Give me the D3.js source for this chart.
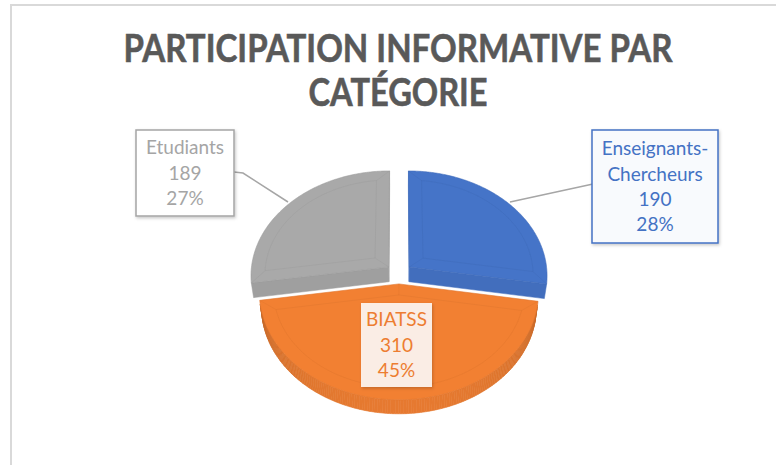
<!DOCTYPE html>
<html><head><meta charset="utf-8">
<script src="https://cdn.jsdelivr.net/npm/d3@7"></script>
<style>html,body{margin:0;padding:0;background:#fff;overflow:hidden}</style>
</head><body>
<svg id="c" width="776" height="465"></svg>
<script>
// ---- data ----
const titleLines = ["PARTICIPATION INFORMATIVE PAR", "CATÉGORIE"];
const categories = ["Enseignants-Chercheurs", "BIATSS", "Etudiants"];
const labelLines = [["Enseignants-", "Chercheurs"], ["BIATSS"], ["Etudiants"]];
const values = [190, 310, 189];
const colors = ["#4472c4", "#ed7d31", "#a5a5a5"];

// ---- layout ----
const W = 776, H = 465;
const geo = {cx: 399, cy: 273.6, R: 138, depth: 23, tilt: 49.4 * Math.PI / 180, D: 1116, explode: 13.5, bevel: 14};
const labelBoxes = [
  {x: 592, y: 130, w: 126, h: 113, fill: "#f8fafd", stroke: "#4472c4", leader: [[593, 184], [510, 202]]},
  {x: 361, y: 303, w: 71, h: 84, fill: "rgba(255,255,255,0.86)", stroke: "none", leader: null},
  {x: 136, y: 130, w: 98, h: 86, fill: "#ffffff", stroke: "#a5a5a5", leader: [[234, 172], [243, 173], [288, 202]]}
];

const svg = d3.select("#c");
const defs = svg.append("defs");
const sh = defs.append("filter").attr("id", "sh").attr("x", "-20%").attr("y", "-20%").attr("width", "140%").attr("height", "140%");
sh.append("feDropShadow").attr("dx", 1).attr("dy", 1.5).attr("stdDeviation", 1.6).attr("flood-color", "#000").attr("flood-opacity", 0.22);

// chart frame
svg.append("rect").attr("x", 11).attr("y", 5).attr("width", 900).attr("height", 600)
  .attr("fill", "#fff").attr("stroke", "#d9d9d9").attr("stroke-width", 2);

// title
const titleFont = "Lato, 'Open Sans', sans-serif";
const titleSpec = [{y: 62, len: 549}, {y: 106, len: 179}];
svg.append("g").selectAll("text").data(titleLines).join("text")
  .attr("x", 398).attr("y", (d, i) => titleSpec[i].y)
  .attr("text-anchor", "middle")
  .attr("font-family", titleFont).attr("font-weight", 700).attr("font-size", 39)
  .attr("fill", "#595959").attr("stroke", "#595959").attr("stroke-width", 0.6)
  .attr("textLength", (d, i) => titleSpec[i].len).attr("lengthAdjust", "spacingAndGlyphs")
  .text(d => d);

// ---- 3D projection ----
const cosA = Math.cos(geo.tilt), sinA = Math.sin(geo.tilt);
function proj(x, y, z) {
  const yu = y * cosA - z * sinA;
  const zv = y * sinA + z * cosA;
  const s = geo.D / (geo.D - zv);
  return [geo.cx + x * s, geo.cy - yu * s];
}
const camW = [0, geo.D * sinA, geo.D * cosA];
function visible(n, p) {
  return n[0] * (camW[0] - p[0]) + n[1] * (camW[1] - p[1]) + n[2] * (camW[2] - p[2]) > 0;
}

const total = d3.sum(values);
const pie = d3.pie().sort(null).startAngle(0).endAngle(2 * Math.PI)(values);
const slices = pie.map((p, i) => {
  const mid = (p.startAngle + p.endAngle) / 2;
  return {i, a0: p.startAngle, a1: p.endAngle, mid,
    ox: geo.explode * Math.sin(mid), oz: -geo.explode * Math.cos(mid),
    color: colors[i], value: values[i]};
});
const order = slices.slice().sort((a, b) => (-Math.cos(a.mid)) - (-Math.cos(b.mid)));
const line = d3.line().curve(d3.curveLinearClosed);
const lineOpen = d3.line();

const gPie = svg.append("g");
function rim(s, th, y, r) {
  r = r === undefined ? geo.R : r;
  return [s.ox + r * Math.sin(th), y, s.oz - r * Math.cos(th)];
}
order.forEach(s => {
  const g = gPie.append("g");
  const base = d3.color(s.color);
  const hgt = -geo.depth;
  // radial faces
  [[s.a0, -1], [s.a1, 1]].forEach(([th, sg]) => {
    const n = [sg * Math.cos(th), 0, sg * Math.sin(th)];
    const apexT = [s.ox, 0, s.oz];
    if (!visible(n, apexT)) return;
    const pts = [apexT, rim(s, th, 0), rim(s, th, hgt), [s.ox, hgt, s.oz]].map(p => proj(...p));
    g.append("path").attr("d", line(pts)).attr("fill", base.darker(0.1)).attr("stroke", base.darker(0.1)).attr("stroke-width", 0.5);
  });
  // outer wall
  const steps = Math.ceil((s.a1 - s.a0) / (Math.PI / 180));
  for (let k = 0; k < steps; k++) {
    const t0 = s.a0 + (s.a1 - s.a0) * k / steps;
    const t1 = s.a0 + (s.a1 - s.a0) * (k + 1) / steps;
    const tm = (t0 + t1) / 2;
    const n = [Math.sin(tm), 0, -Math.cos(tm)];
    if (!visible(n, rim(s, tm, 0))) continue;
    const f = Math.max(0, Math.min(1, -Math.cos(tm)));
    const c = d3.interpolateRgb(base.darker(1.0), base.darker(0.08))(Math.pow(f, 0.45));
    const pts = [rim(s, t0, 0), rim(s, t1, 0), rim(s, t1, hgt), rim(s, t0, hgt)].map(p => proj(...p));
    g.append("path").attr("d", line(pts)).attr("fill", c).attr("stroke", c).attr("stroke-width", 0.6);
  }
  // top face
  const topPts = [[s.ox, 0, s.oz]];
  const n2 = Math.ceil((s.a1 - s.a0) / (Math.PI / 360));
  for (let k = 0; k <= n2; k++) topPts.push(rim(s, s.a0 + (s.a1 - s.a0) * k / n2, 0));
  g.append("path").attr("d", line(topPts.map(p => proj(...p)))).attr("fill", base.brighter(0.06)).attr("stroke", base.darker(0.15)).attr("stroke-width", 0.6);
  // bevel inset outline
  const d = geo.bevel, r = geo.R - d;
  const half = (s.a1 - s.a0) / 2;
  const ia = d / Math.sin(half);
  const inApex = [s.ox + ia * Math.sin(s.mid), 0, s.oz - ia * Math.cos(s.mid)];
  const b0 = s.a0 + Math.asin(d / r), b1 = s.a1 - Math.asin(d / r);
  const inPts = [inApex];
  for (let k = 0; k <= n2; k++) inPts.push(rim(s, b0 + (b1 - b0) * k / n2, 0, r));
  g.append("path").attr("d", line(inPts.map(p => proj(...p)))).attr("fill", "none")
    .attr("stroke", base.darker(0.5)).attr("stroke-opacity", 0.2).attr("stroke-width", 1);
  [[[s.ox, 0, s.oz], inApex], [rim(s, s.a0, 0), inPts[1]], [rim(s, s.a1, 0), inPts[inPts.length - 1]]].forEach(seg => {
    g.append("path").attr("d", lineOpen(seg.map(p => proj(...p)))).attr("fill", "none")
      .attr("stroke", base.darker(0.5)).attr("stroke-opacity", 0.18).attr("stroke-width", 1);
  });
});

// ---- labels ----
const labFont = "Lato, 'Open Sans', sans-serif";
const gLab = svg.append("g");
slices.forEach(s => {
  const b = labelBoxes[s.i];
  if (b.leader) gLab.append("path").attr("d", lineOpen(b.leader)).attr("fill", "none").attr("stroke", "#a6a6a6").attr("stroke-width", 1.5);
});
slices.forEach(s => {
  const b = labelBoxes[s.i];
  const g = gLab.append("g");
  g.append("rect").attr("x", b.x).attr("y", b.y).attr("width", b.w).attr("height", b.h)
    .attr("fill", b.fill).attr("stroke", b.stroke).attr("stroke-width", 1.5).attr("filter", "url(#sh)");
  const lines = labelLines[s.i].concat([String(s.value), Math.round(100 * s.value / total) + "%"]);
  const pitch = 25.4;
  const c0 = b.y + b.h / 2 - pitch * (lines.length - 1) / 2;
  g.selectAll("text").data(lines).join("text")
    .attr("x", b.x + b.w / 2).attr("y", (d, k) => c0 + k * pitch + 6.8)
    .attr("text-anchor", "middle").attr("font-family", labFont).attr("font-size", 19)
    .attr("fill", s.color).text(d => d);
});
</script>
</body></html>
